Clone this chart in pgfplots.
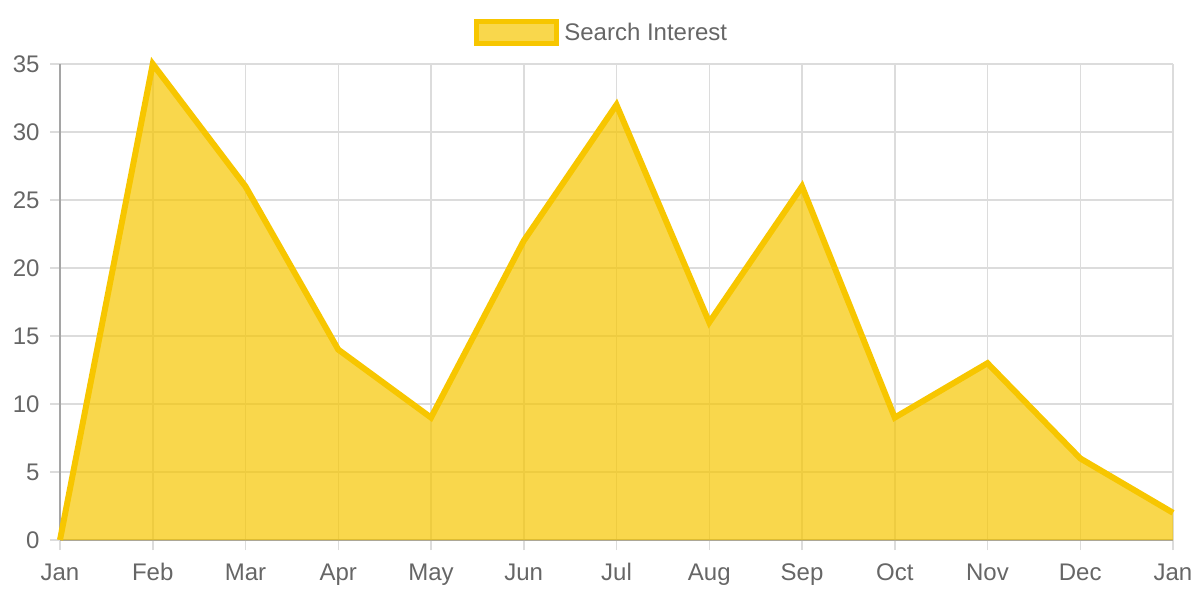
\documentclass[border=0pt]{standalone}
\usepackage{pgfplots}
\pgfplotsset{compat=1.18}
\usepackage{fontspec}
\setmainfont{Liberation Sans}
\definecolor{yel}{RGB}{247,198,0}
\definecolor{txt}{RGB}{102,102,102}
\definecolor{gridc}{RGB}{220,220,220}
\definecolor{axc}{RGB}{165,165,165}
\begin{document}
\begin{tikzpicture}
\path[use as bounding box] (0,0) rectangle (1200bp,600bp);
\begin{axis}[
    at={(60bp,60bp)}, anchor=south west,
    scale only axis, width=1113bp, height=476bp,
    xmin=0, xmax=12, ymin=0, ymax=35,
    xtick={0,...,12},
    xticklabels={Jan,Feb,Mar,Apr,May,Jun,Jul,Aug,Sep,Oct,Nov,Dec,Jan},
    ytick={0,5,...,35},
    xmajorgrids, ymajorgrids,
    grid style={gridc, line width=1.5bp},
    axis x line*=bottom, axis y line*=left,
    axis line style={axc, line width=1.5bp, -},
    tick align=outside, major tick length=10bp,
    tick style={gridc, line width=1.5bp},
    font=\fontsize{24bp}{28bp}\selectfont,
    ticklabel style={txt},
    yticklabel style={xshift=-7bp},
    xticklabel style={yshift=-10bp},
    /pgf/number format/assume math mode=true,
    clip=false,
    legend style={at={(axis description cs:0.5,1)}, anchor=south, yshift=16bp, xshift=-15bp,
        draw=none, fill=none, text=txt, font=\fontsize{24bp}{28bp}\selectfont},
    legend image code/.code={
        \draw[line width=5bp, draw=yel, fill=yel, fill opacity=0.7] (0bp,-11bp) rectangle (80bp,11bp);
        \path[draw=none] (0bp,0bp) -- (86bp,0bp);},
]
\addplot[draw=none, fill=yel, fill opacity=0.7, forget plot] coordinates {
    (0,0) (1,35) (2,26) (3,14) (4,9) (5,22) (6,32) (7,16) (8,26) (9,9) (10,13) (11,6) (12,2)
} \closedcycle;
\addplot[yel, line width=6bp] coordinates {
    (0,0) (1,35) (2,26) (3,14) (4,9) (5,22) (6,32) (7,16) (8,26) (9,9) (10,13) (11,6) (12,2)
};
\addlegendentry{Search Interest}
\end{axis}
\end{tikzpicture}
\end{document}
